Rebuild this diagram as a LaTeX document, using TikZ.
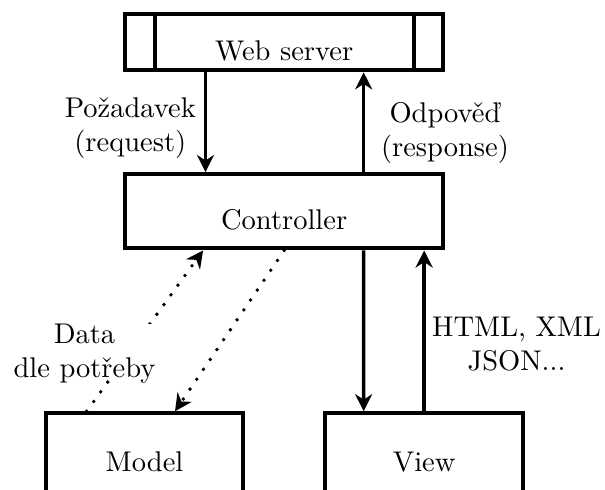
\documentclass[tikz,border=0pt]{standalone}
\usepackage{fontspec}
\usetikzlibrary{arrows.meta}

\begin{document}
\begin{tikzpicture}[
    box/.style={draw,line width=1.45pt,minimum width=#1,minimum height=0.916cm,
                text height=13pt,text depth=0pt},
    arr/.style={-{Stealth[length=6pt,width=6pt]},line width=1.2pt},
    dots/.style={-{Stealth[length=6pt,width=6pt]},line width=1.35pt,
                 line cap=round,dash pattern=on 0pt off 4.2pt},
    ann/.style={align=center},
]
\useasboundingbox (0,0) rectangle (7.46,6.03);

% Web server (with side bars)
\node[box=3.925cm,minimum height=0.687cm] (web) at (3.504,5.509) {Web server};
\draw[line width=1.45pt] ([xshift=0.39cm]web.north west) -- ([xshift=0.39cm]web.south west);
\draw[line width=1.45pt] ([xshift=-0.39cm]web.north east) -- ([xshift=-0.39cm]web.south east);

% Controller
\node[box=3.925cm] (ctrl) at (3.504,3.425) {Controller};

% Model and View (cut off at the bottom)
\node[box=2.437cm,minimum height=0.97cm] (model) at (1.782,0.449) {Model};
\node[box=2.445cm,minimum height=0.97cm] (view)  at (5.230,0.449) {View};

% request / response
\draw[arr] ([xshift=-0.97cm]web.south) -- ([xshift=-0.97cm]ctrl.north);
\draw[arr] ([xshift=0.98cm]ctrl.north) -- ([xshift=0.98cm]web.south);
\node[ann] (req)  at (1.607,4.445) {Požadavek\\(request)};
\node[ann] (resp) at (5.487,4.390) {Odpověď\\(response)};

% Controller <-> View
\draw[arr] ([xshift=0.98cm]ctrl.south) -- ([xshift=-0.746cm]view.north);
\draw[arr] (view.north) -- (view.north |- ctrl.south);
\node[ann] (fmt) at (6.369,1.788) {HTML, XML\\JSON...};

% Controller <-> Model
\draw[dots] ([xshift=-0.713cm]model.north) -- ([xshift=-1cm]ctrl.south);
\draw[dots] (ctrl.south) -- ([xshift=0.376cm]model.north);
\node[ann,fill=white,inner sep=0pt,text depth=0pt] (data) at (1.042,1.702) {Data\\dle potřeby};

\end{tikzpicture}
\end{document}
